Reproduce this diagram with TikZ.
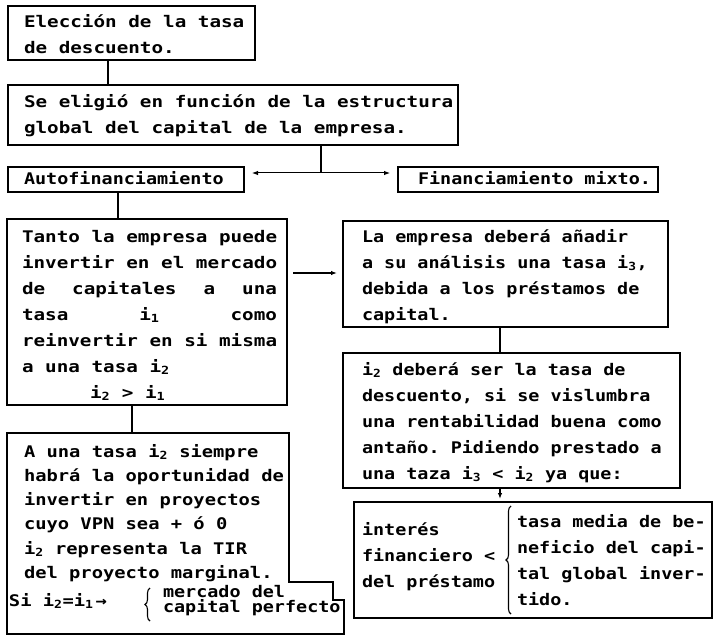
\documentclass[tikz,border=0pt]{standalone}
\usepackage{fontspec}
\setmainfont{DejaVu Sans Mono}[FakeStretch=1.204]
\newfontfamily\midmono{DejaVu Sans Mono}[FakeStretch=1.173]
\newfontfamily\narrowmono{DejaVu Sans Mono}[FakeStretch=1.152]
\usetikzlibrary{arrows.meta,decorations.pathreplacing,calc}

\newcommand{\sub}[1]{\textsubscript{#1}}
% typewriter-like settings: a word gap is exactly one character wide
\newlength{\skw}
\newcommand{\sk}{\hspace*{\skw}}
\newcommand{\boxfontwide}{\fontsize{16}{26}\selectfont\bfseries\setlength{\skw}{11.6pt}}
\newcommand{\boxfontmid}[1]{\midmono\fontsize{16}{#1}\selectfont\bfseries\setlength{\skw}{11.3pt}}
\newcommand{\boxfontnarrow}[1]{\narrowmono\fontsize{16}{#1}\selectfont\bfseries\setlength{\skw}{11.1pt}}

\begin{document}
\begin{tikzpicture}[x=1pt,y=-1pt,
  every node/.style={inner sep=0pt, outer sep=0pt},
  frame/.style n args={2}{draw, line width=1.7pt, anchor=north west,
    minimum width=#1, minimum height=#2},
  txt/.style={anchor=base west, align=left, text width=520pt, font=\boxfontwide},
  mid/.style={font=\boxfontmid{#1}},
  narrow/.style={font=\boxfontnarrow{#1}},
  narrow/.default=26,
  stem/.style={line width=2pt},
  arr/.style={line width=1.2pt, -{Latex[length=6pt,width=4.5pt]}},
  twoarr/.style={line width=1pt, {Latex[length=6pt,width=4.5pt]}-{Latex[length=6pt,width=4.5pt]}},
  curly/.style={line width=1.1pt, decorate, decoration={brace, amplitude=5pt}}
]
\useasboundingbox (0,0) rectangle (714,639);

% --- boxes ---
\node[frame={247pt}{54pt}]  (b1)    at (8,6)     {};
\node[frame={450pt}{60pt}]  (b2)    at (8,85)    {};
\node[frame={236pt}{25pt}]  (auto)  at (8,167)   {};
\node[frame={260pt}{25pt}]  (mix)   at (398,167) {};
\node[frame={280pt}{186pt}] (tanto) at (7,219)   {};
\node[frame={325pt}{106pt}] (emp)   at (343,221) {};
\node[frame={337pt}{135pt}] (iz)    at (343,353) {};
\node[frame={358pt}{116pt}] (intb)  at (354,502) {};
\node[anchor=north west, minimum width=282pt, minimum height=201pt] (abox) at (7,433) {};
\draw[line width=1.7pt, line join=miter]
  (abox.north west) -- (abox.north east) -- ++(0,149) -- ++(44,0)
  -- ++(0,18) -- ++(11,0) |- (abox.south west) -- cycle;

% --- texts ---
\node[txt] (t1) at (24,28)
  {Elección\sk de\sk la\sk tasa\\
   de\sk descuento.};
\node[txt] (t2) at (24,108)
  {Se\sk eligió\sk en\sk función\sk de\sk la\sk estructura\\
   global\sk del\sk capital\sk de\sk la\sk empresa.};
\node[txt, narrow] (tauto) at (24,185) {Autofinanciamiento};
\node[txt, narrow] (tmix) at (418,185) {Financiamiento\sk mixto.};
\node[txt] (ttanto) at (22,242)
  {Tanto\sk la\sk empresa\sk puede\\
   invertir\sk en\sk el\sk mercado\\
   \makebox[255pt][l]{de\hfill capitales\hfill a\hfill una}\\
   \makebox[255pt][l]{tasa\hfill i\sub{1}\hfill como}\\
   reinvertir\sk en\sk si\sk misma\\
   a\sk una\sk tasa\sk i\sub{2}\\
   \hspace*{68pt}i\sub{2}\sk>\sk i\sub{1}};
\node[txt, narrow] (temp) at (362,242)
  {La\sk empresa\sk deberá\sk añadir\\
   a\sk su\sk análisis\sk una\sk tasa\sk i\sub{3},\\
   debida\sk a\sk los\sk préstamos\sk de\\
   capital.};
\node[txt, narrow] (tiz) at (362,375)
  {i\sub{2}\sk deberá\sk ser\sk la\sk tasa\sk de\\
   descuento,\sk si\sk se\sk vislumbra\\
   una\sk rentabilidad\sk buena\sk como\\
   antaño.\sk Pidiendo\sk prestado\sk a\\
   una\sk taza\sk i\sub{3}\sk<\sk i\sub{2}\sk ya\sk que:};
\node[txt, narrow] (tintl) at (362,535)
  {interés\\financiero\sk<\\del\sk préstamo};
\node[txt, narrow] (tintr) at (517,527)
  {tasa\sk media\sk de\sk be-\\
   neficio\sk del\sk capi-\\
   tal\sk global\sk inver-\\
   tido.};
\node[txt, mid=24.3] (ta) at (24,457)
  {A\sk una\sk tasa\sk i\sub{2}\sk siempre\\
   habrá\sk la\sk oportunidad\sk de\\
   invertir\sk en\sk proyectos\\
   cuyo\sk VPN\sk sea\sk +\sk ó\sk 0\\
   i\sub{2}\sk representa\sk la\sk TIR\\
   del\sk proyecto\sk marginal.};
\node[txt, mid=26] (tsi) at (9,606) {Si\sk i\sub{2}=i\sub{1}\hspace{2pt}→};
\node[txt, narrow=15.5] (tmer) at (163,597)
  {mercado\sk del\\capital\sk perfecto};

% --- braces ---
\draw[curly] ($(intb.south west)+(157,-4)$) -- ($(intb.north west)+(157,4)$);
\draw[curly] ($(abox.south west)+(143,-13)$) -- ($(abox.south west)+(143,-46)$);

% --- connectors ---
\coordinate (c1) at ($(b1.south west)+(100,0)$);
\draw[stem] (c1) -- (c1 |- b2.north);
\coordinate (c2) at ($(b2.south west)+(313,0)$);
\coordinate (split) at ($(c2)+(0,28)$);
\draw[stem] (c2) -- (split);
\draw[twoarr] ($(auto.north east)+(8,6)$) -- ($(mix.north west)+(-8,6)$);
\coordinate (c3) at ($(auto.south west)+(110,0)$);
\draw[stem] (c3) -- (c3 |- tanto.north);
\draw[arr] ($(tanto.north east)+(6,54)$) -- ($(emp.north west)+(-6,52)$);
\coordinate (c4) at ($(emp.south west)+(157,0)$);
\draw[stem] (c4) -- (c4 |- iz.north);
\coordinate (c5) at ($(iz.south west)+(157,0)$);
\draw[arr] (c5) -- ($(c5 |- intb.north)+(0,-3)$);
\coordinate (c6) at ($(tanto.south west)+(125,0)$);
\draw[stem] (c6) -- (c6 |- abox.north);
\end{tikzpicture}
\end{document}
